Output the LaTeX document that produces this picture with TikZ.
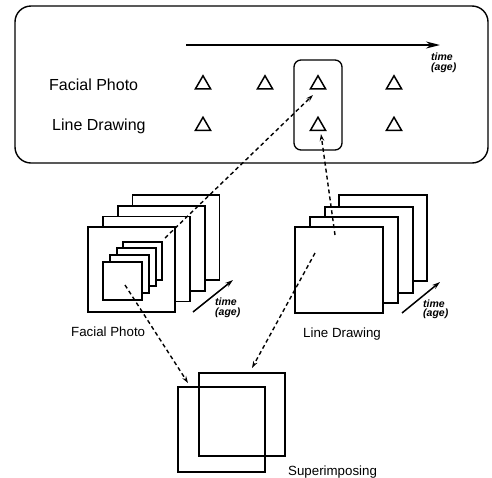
\documentclass[tikz,border=0pt]{standalone}
\usepackage{fontspec}
\setmainfont{Liberation Sans}
\usetikzlibrary{arrows.meta,shapes.geometric}
\begin{document}
\begin{tikzpicture}[x=1pt,y=-1pt,
  frame/.style={draw, fill=white, line width=1.3pt, inner sep=0, outer sep=0},
  dashedarrow/.style={dash pattern=on 4pt off 3pt, line width=1.4pt, -{Stealth[length=7pt,width=4.5pt]}},
  tri/.style={regular polygon, regular polygon sides=3, draw, line width=1.5pt, minimum size=17.5pt, inner sep=0},
  lab/.style={anchor=base west, inner sep=0, font=\fontsize{16}{18}\selectfont},
  blab/.style={anchor=base west, inner sep=0, font=\fontsize{13.3}{15}\selectfont},
  timelab/.style={anchor=north west, inner sep=0, align=left, font=\fontsize{10.5}{9.5}\selectfont\bfseries\itshape},
  timearrow/.style={line width=1.5pt, -{Stealth[length=8pt,width=5pt]}}]
\useasboundingbox (0,0) rectangle (492,477);

% top panel
\node[draw, line width=1.4pt, rounded corners=16pt, minimum width=473pt, minimum height=157pt, inner sep=0] (panel) at (251.5,84.5) {};
\coordinate (ta) at (186,45);
\coordinate (tb) at (440,45);
\draw[line width=1.8pt, -{Stealth[length=14pt,width=7pt]}] (ta) -- (tb);
\node[timelab] (tl0) at (431,53) {time\\(age)};

\node[lab] (lfp) at (49,90.5) {Facial Photo};
\node[lab] (lld) at (52,130.5) {Line Drawing};

\node[tri] (t11) at (203,84.5) {};
\node[tri] (t12) at (265,84.5) {};
\node[tri] (t13) at (318,84.5) {};
\node[tri] (t14) at (394,84.5) {};
\node[tri] (t21) at (203,126) {};
\node[tri] (t23) at (318,126) {};
\node[tri] (t24) at (394,126) {};

\node[draw, line width=1.3pt, rounded corners=7pt, minimum width=48pt, minimum height=90pt, inner sep=0] (sel) at (318,105) {};

% facial photo stack
\node[frame, minimum width=87pt, minimum height=85pt] (f4) at (176,237.5) {};
\node[frame, minimum width=87pt, minimum height=85pt] (f3) at (161.5,248.5) {};
\node[frame, minimum width=87pt, minimum height=85pt] (f2) at (146.5,259) {};
\node[frame, minimum width=87pt, minimum height=85pt] (f1) at (131.5,269.5) {};
\node[frame, minimum width=39pt, minimum height=38pt] (s4) at (142.5,261) {};
\node[frame, minimum width=39pt, minimum height=38pt] (s3) at (136.5,267) {};
\node[frame, minimum width=39pt, minimum height=38pt] (s2) at (129.5,274) {};
\node[frame, minimum width=39pt, minimum height=38pt] (s1) at (122.5,281) {};
\coordinate (fa1) at (193,312);
\coordinate (fa2) at (233,280);
\draw[timearrow] (fa1) -- (fa2);
\node[timelab] (tl1) at (215,298) {time\\(age)};
\node[blab] (bfp) at (71,336.7) {Facial Photo};

% line drawing stack
\node[frame, minimum width=88pt, minimum height=86pt] (g4) at (383,238) {};
\node[frame, minimum width=88pt, minimum height=86pt] (g3) at (369,250) {};
\node[frame, minimum width=88pt, minimum height=86pt] (g2) at (354,260) {};
\node[frame, minimum width=88pt, minimum height=86pt] (g1) at (339,270) {};
\coordinate (la1) at (402,313);
\coordinate (la2) at (440,282);
\draw[timearrow] (la1) -- (la2);
\node[timelab] (tl2) at (423,299.5) {time\\(age)};
\node[blab] (bld) at (303,337.3) {Line Drawing};

% superimposing
\node[draw, line width=1.1pt, minimum width=87pt, minimum height=85pt, inner sep=0] (sqA) at (221.5,429.5) {};
\node[draw, line width=1.5pt, minimum width=86pt, minimum height=83pt, inner sep=0] (sqB) at (242,414.5) {};
\node[blab] (bsup) at (288,475) {Superimposing};

% dashed connectors
\coordinate (fpUp) at (165,238);
\coordinate (e1) at (313,95);
\draw[dashedarrow] (fpUp) -- (e1);
\coordinate (fpDown) at (125,285);
\coordinate (e2) at (188,383);
\draw[dashedarrow] (fpDown) -- (e2);
\coordinate (ldUp) at (335,235);
\coordinate (e3) at (321,134);
\draw[dashedarrow] (ldUp) -- (e3);
\coordinate (ldDown) at (315,253);
\coordinate (e4) at (252,368);
\draw[dashedarrow] (ldDown) -- (e4);
\end{tikzpicture}
\end{document}
